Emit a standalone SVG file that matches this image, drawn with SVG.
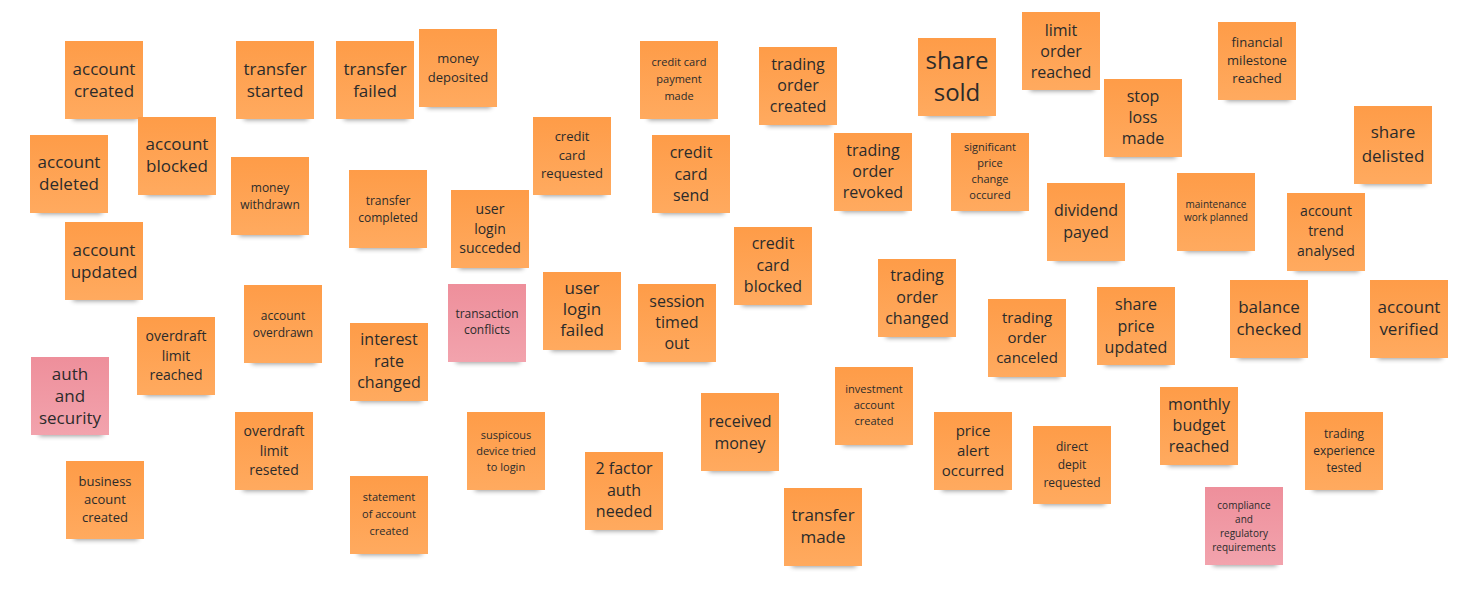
<svg xmlns="http://www.w3.org/2000/svg" width="1470" height="592" viewBox="0 0 1470 592">
<defs>
<linearGradient id="og" x1="0" y1="0" x2="0" y2="1"><stop offset="0" stop-color="#FE9C48"/><stop offset="1" stop-color="#FFAA5F"/></linearGradient>
<linearGradient id="pg" x1="0" y1="0" x2="0" y2="1"><stop offset="0" stop-color="#EE8F9B"/><stop offset="1" stop-color="#F2A3AD"/></linearGradient>
<filter id="blur" x="-20%" y="-100%" width="140%" height="300%"><feGaussianBlur stdDeviation="2.5"/></filter>
<g id="sh"><rect x="8" y="70" width="64" height="9" fill="#000" opacity="0.4" filter="url(#blur)"/></g>
</defs>
<style>
text{font-family:"Open Sans","Noto Sans","Liberation Sans",sans-serif;fill:#2b2b2b;text-anchor:middle}
.o{fill:url(#og)}
.p{fill:url(#pg)}
</style>
<rect width="1470" height="592" fill="#fff"/>
<g id="connectors"/>

<g id="n1" transform="translate(65,41)"><use href="#sh"/><rect class="o" width="78" height="78"/><text font-size="17" y="34"><tspan x="39">account</tspan><tspan x="39" dy="22">created</tspan></text></g>
<g id="n2" transform="translate(236,41)"><use href="#sh"/><rect class="o" width="78" height="78"/><text font-size="17" y="34"><tspan x="39">transfer</tspan><tspan x="39" dy="22">started</tspan></text></g>
<g id="n3" transform="translate(336,41)"><use href="#sh"/><rect class="o" width="78" height="78"/><text font-size="17" y="34"><tspan x="39">transfer</tspan><tspan x="39" dy="22">failed</tspan></text></g>
<g id="n4" transform="translate(419,29)"><use href="#sh"/><rect class="o" width="78" height="78"/><text font-size="13" y="34"><tspan x="39">money</tspan><tspan x="39" dy="19">deposited</tspan></text></g>
<g id="n5" transform="translate(640,41)"><use href="#sh"/><rect class="o" width="78" height="78"/><text font-size="11" y="25"><tspan x="39">credit card</tspan><tspan x="39" dy="17">payment</tspan><tspan x="39" dy="17">made</tspan></text></g>
<g id="n6" transform="translate(759,47)"><use href="#sh"/><rect class="o" width="78" height="78"/><text font-size="16" y="23"><tspan x="39">trading</tspan><tspan x="39" dy="21">order</tspan><tspan x="39" dy="21">created</tspan></text></g>
<g id="n7" transform="translate(918,38)"><use href="#sh"/><rect class="o" width="78" height="78"/><text font-size="24" y="31"><tspan x="39">share</tspan><tspan x="39" dy="32">sold</tspan></text></g>
<g id="n8" transform="translate(1022,12)"><use href="#sh"/><rect class="o" width="78" height="78"/><text font-size="16" y="24"><tspan x="39">limit</tspan><tspan x="39" dy="21">order</tspan><tspan x="39" dy="21">reached</tspan></text></g>
<g id="n9" transform="translate(1218,22)"><use href="#sh"/><rect class="o" width="78" height="78"/><text font-size="13" y="25"><tspan x="39">financial</tspan><tspan x="39" dy="18">milestone</tspan><tspan x="39" dy="18">reached</tspan></text></g>
<g id="n10" transform="translate(1104,79)"><use href="#sh"/><rect class="o" width="78" height="78"/><text font-size="16" y="23"><tspan x="39">stop</tspan><tspan x="39" dy="21">loss</tspan><tspan x="39" dy="21">made</tspan></text></g>
<g id="n11" transform="translate(1354,106)"><use href="#sh"/><rect class="o" width="78" height="78"/><text font-size="17" y="32"><tspan x="39">share</tspan><tspan x="39" dy="24">delisted</tspan></text></g>
<g id="n12" transform="translate(30,135)"><use href="#sh"/><rect class="o" width="78" height="78"/><text font-size="17" y="33"><tspan x="39">account</tspan><tspan x="39" dy="22">deleted</tspan></text></g>
<g id="n13" transform="translate(138,117)"><use href="#sh"/><rect class="o" width="78" height="78"/><text font-size="17" y="33"><tspan x="39">account</tspan><tspan x="39" dy="22">blocked</tspan></text></g>
<g id="n14" transform="translate(231,157)"><use href="#sh"/><rect class="o" width="78" height="78"/><text font-size="12" y="35"><tspan x="39">money</tspan><tspan x="39" dy="17">withdrawn</tspan></text></g>
<g id="n15" transform="translate(349,170)"><use href="#sh"/><rect class="o" width="78" height="78"/><text font-size="12" y="35"><tspan x="39">transfer</tspan><tspan x="39" dy="17">completed</tspan></text></g>
<g id="n16" transform="translate(533,117)"><use href="#sh"/><rect class="o" width="78" height="78"/><text font-size="13" y="24"><tspan x="39">credit</tspan><tspan x="39" dy="19">card</tspan><tspan x="39" dy="18">requested</tspan></text></g>
<g id="n17" transform="translate(652,135)"><use href="#sh"/><rect class="o" width="78" height="78"/><text font-size="16" y="23"><tspan x="39">credit</tspan><tspan x="39" dy="21.5">card</tspan><tspan x="39" dy="21.5">send</tspan></text></g>
<g id="n18" transform="translate(451,190)"><use href="#sh"/><rect class="o" width="78" height="78"/><text font-size="14" y="24"><tspan x="39">user</tspan><tspan x="39" dy="19.5">login</tspan><tspan x="39" dy="19.5">succeded</tspan></text></g>
<g id="n19" transform="translate(834,133)"><use href="#sh"/><rect class="o" width="78" height="78"/><text font-size="16" y="23"><tspan x="39">trading</tspan><tspan x="39" dy="21">order</tspan><tspan x="39" dy="21">revoked</tspan></text></g>
<g id="n20" transform="translate(951,133)"><use href="#sh"/><rect class="o" width="78" height="78"/><text font-size="11" y="18"><tspan x="39">significant</tspan><tspan x="39" dy="16">price</tspan><tspan x="39" dy="16">change</tspan><tspan x="39" dy="16">occured</tspan></text></g>
<g id="n21" transform="translate(1047,183)"><use href="#sh"/><rect class="o" width="78" height="78"/><text font-size="16" y="33"><tspan x="39">dividend</tspan><tspan x="39" dy="22">payed</tspan></text></g>
<g id="n22" transform="translate(1177,173)"><use href="#sh"/><rect class="o" width="78" height="78"/><text font-size="10" y="35"><tspan x="39">maintenance</tspan><tspan x="39" dy="13">work planned</tspan></text></g>
<g id="n23" transform="translate(1287,193)"><use href="#sh"/><rect class="o" width="78" height="78"/><text font-size="14" y="23"><tspan x="39">account</tspan><tspan x="39" dy="20">trend</tspan><tspan x="39" dy="20">analysed</tspan></text></g>
<g id="n24" transform="translate(65,222)"><use href="#sh"/><rect class="o" width="78" height="78"/><text font-size="17" y="34"><tspan x="39">account</tspan><tspan x="39" dy="22">updated</tspan></text></g>
<g id="n25" transform="translate(244,285)"><use href="#sh"/><rect class="o" width="78" height="78"/><text font-size="12" y="35"><tspan x="39">account</tspan><tspan x="39" dy="17">overdrawn</tspan></text></g>
<g id="n26" transform="translate(734,227)"><use href="#sh"/><rect class="o" width="78" height="78"/><text font-size="16" y="22"><tspan x="39">credit</tspan><tspan x="39" dy="21.5">card</tspan><tspan x="39" dy="21.5">blocked</tspan></text></g>
<g id="n27" transform="translate(878,259)"><use href="#sh"/><rect class="o" width="78" height="78"/><text font-size="16" y="22"><tspan x="39">trading</tspan><tspan x="39" dy="21.5">order</tspan><tspan x="39" dy="21.5">changed</tspan></text></g>
<g id="n28" transform="translate(448,284)"><use href="#sh"/><rect class="p" width="78" height="78"/><text font-size="12" y="34"><tspan x="39">transaction</tspan><tspan x="39" dy="16">conflicts</tspan></text></g>
<g id="n29" transform="translate(543,272)"><use href="#sh"/><rect class="o" width="78" height="78"/><text font-size="17" y="22"><tspan x="39">user</tspan><tspan x="39" dy="21">login</tspan><tspan x="39" dy="21">failed</tspan></text></g>
<g id="n30" transform="translate(638,284)"><use href="#sh"/><rect class="o" width="78" height="78"/><text font-size="16" y="23"><tspan x="39">session</tspan><tspan x="39" dy="21">timed</tspan><tspan x="39" dy="21">out</tspan></text></g>
<g id="n31" transform="translate(137,317)"><use href="#sh"/><rect class="o" width="78" height="78"/><text font-size="14" y="24"><tspan x="39">overdraft</tspan><tspan x="39" dy="19.5">limit</tspan><tspan x="39" dy="19.5">reached</tspan></text></g>
<g id="n32" transform="translate(350,323)"><use href="#sh"/><rect class="o" width="78" height="78"/><text font-size="16" y="22"><tspan x="39">interest</tspan><tspan x="39" dy="21.5">rate</tspan><tspan x="39" dy="21.5">changed</tspan></text></g>
<g id="n33" transform="translate(988,299)"><use href="#sh"/><rect class="o" width="78" height="78"/><text font-size="15" y="24"><tspan x="39">trading</tspan><tspan x="39" dy="20">order</tspan><tspan x="39" dy="20">canceled</tspan></text></g>
<g id="n34" transform="translate(1097,287)"><use href="#sh"/><rect class="o" width="78" height="78"/><text font-size="16" y="23"><tspan x="39">share</tspan><tspan x="39" dy="21.5">price</tspan><tspan x="39" dy="21.5">updated</tspan></text></g>
<g id="n35" transform="translate(1230,280)"><use href="#sh"/><rect class="o" width="78" height="78"/><text font-size="17" y="33"><tspan x="39">balance</tspan><tspan x="39" dy="22">checked</tspan></text></g>
<g id="n36" transform="translate(1370,280)"><use href="#sh"/><rect class="o" width="78" height="78"/><text font-size="17" y="33"><tspan x="39">account</tspan><tspan x="39" dy="22">verified</tspan></text></g>
<g id="n37" transform="translate(31,357)"><use href="#sh"/><rect class="p" width="78" height="78"/><text font-size="17" y="23"><tspan x="39">auth</tspan><tspan x="39" dy="22">and</tspan><tspan x="39" dy="22">security</tspan></text></g>
<g id="n38" transform="translate(835,367)"><use href="#sh"/><rect class="o" width="78" height="78"/><text font-size="11" y="26"><tspan x="39">investment</tspan><tspan x="39" dy="16">account</tspan><tspan x="39" dy="16">created</tspan></text></g>
<g id="n39" transform="translate(701,393)"><use href="#sh"/><rect class="o" width="78" height="78"/><text font-size="16" y="34"><tspan x="39">received</tspan><tspan x="39" dy="22">money</tspan></text></g>
<g id="n40" transform="translate(235,412)"><use href="#sh"/><rect class="o" width="78" height="78"/><text font-size="14" y="24"><tspan x="39">overdraft</tspan><tspan x="39" dy="19.5">limit</tspan><tspan x="39" dy="19.5">reseted</tspan></text></g>
<g id="n41" transform="translate(467,412)"><use href="#sh"/><rect class="o" width="78" height="78"/><text font-size="11" y="27"><tspan x="39">suspicous</tspan><tspan x="39" dy="16">device tried</tspan><tspan x="39" dy="16">to login</tspan></text></g>
<g id="n42" transform="translate(934,412)"><use href="#sh"/><rect class="o" width="78" height="78"/><text font-size="15" y="24"><tspan x="39">price</tspan><tspan x="39" dy="20">alert</tspan><tspan x="39" dy="20">occurred</tspan></text></g>
<g id="n43" transform="translate(1033,426)"><use href="#sh"/><rect class="o" width="78" height="78"/><text font-size="12" y="25"><tspan x="39">direct</tspan><tspan x="39" dy="18">depit</tspan><tspan x="39" dy="18">requested</tspan></text></g>
<g id="n44" transform="translate(1160,387)"><use href="#sh"/><rect class="o" width="78" height="78"/><text font-size="16" y="23"><tspan x="39">monthly</tspan><tspan x="39" dy="21">budget</tspan><tspan x="39" dy="21">reached</tspan></text></g>
<g id="n45" transform="translate(1305,412)"><use href="#sh"/><rect class="o" width="78" height="78"/><text font-size="12" y="26"><tspan x="39">trading</tspan><tspan x="39" dy="17">experience</tspan><tspan x="39" dy="17">tested</tspan></text></g>
<g id="n46" transform="translate(66,461)"><use href="#sh"/><rect class="o" width="78" height="78"/><text font-size="13" y="25"><tspan x="39">business</tspan><tspan x="39" dy="18">acount</tspan><tspan x="39" dy="18">created</tspan></text></g>
<g id="n47" transform="translate(350,476)"><use href="#sh"/><rect class="o" width="78" height="78"/><text font-size="11" y="25"><tspan x="39">statement</tspan><tspan x="39" dy="17">of account</tspan><tspan x="39" dy="17">created</tspan></text></g>
<g id="n48" transform="translate(585,452)"><use href="#sh"/><rect class="o" width="78" height="78"/><text font-size="16" y="22"><tspan x="39">2 factor</tspan><tspan x="39" dy="21.5">auth</tspan><tspan x="39" dy="21.5">needed</tspan></text></g>
<g id="n49" transform="translate(784,488)"><use href="#sh"/><rect class="o" width="78" height="78"/><text font-size="17" y="33"><tspan x="39">transfer</tspan><tspan x="39" dy="22">made</tspan></text></g>
<g id="n50" transform="translate(1205,487)"><use href="#sh"/><rect class="p" width="78" height="78"/><text font-size="10" y="22"><tspan x="39">compliance</tspan><tspan x="39" dy="14">and</tspan><tspan x="39" dy="14">regulatory</tspan><tspan x="39" dy="14">requirements</tspan></text></g>
</svg>
